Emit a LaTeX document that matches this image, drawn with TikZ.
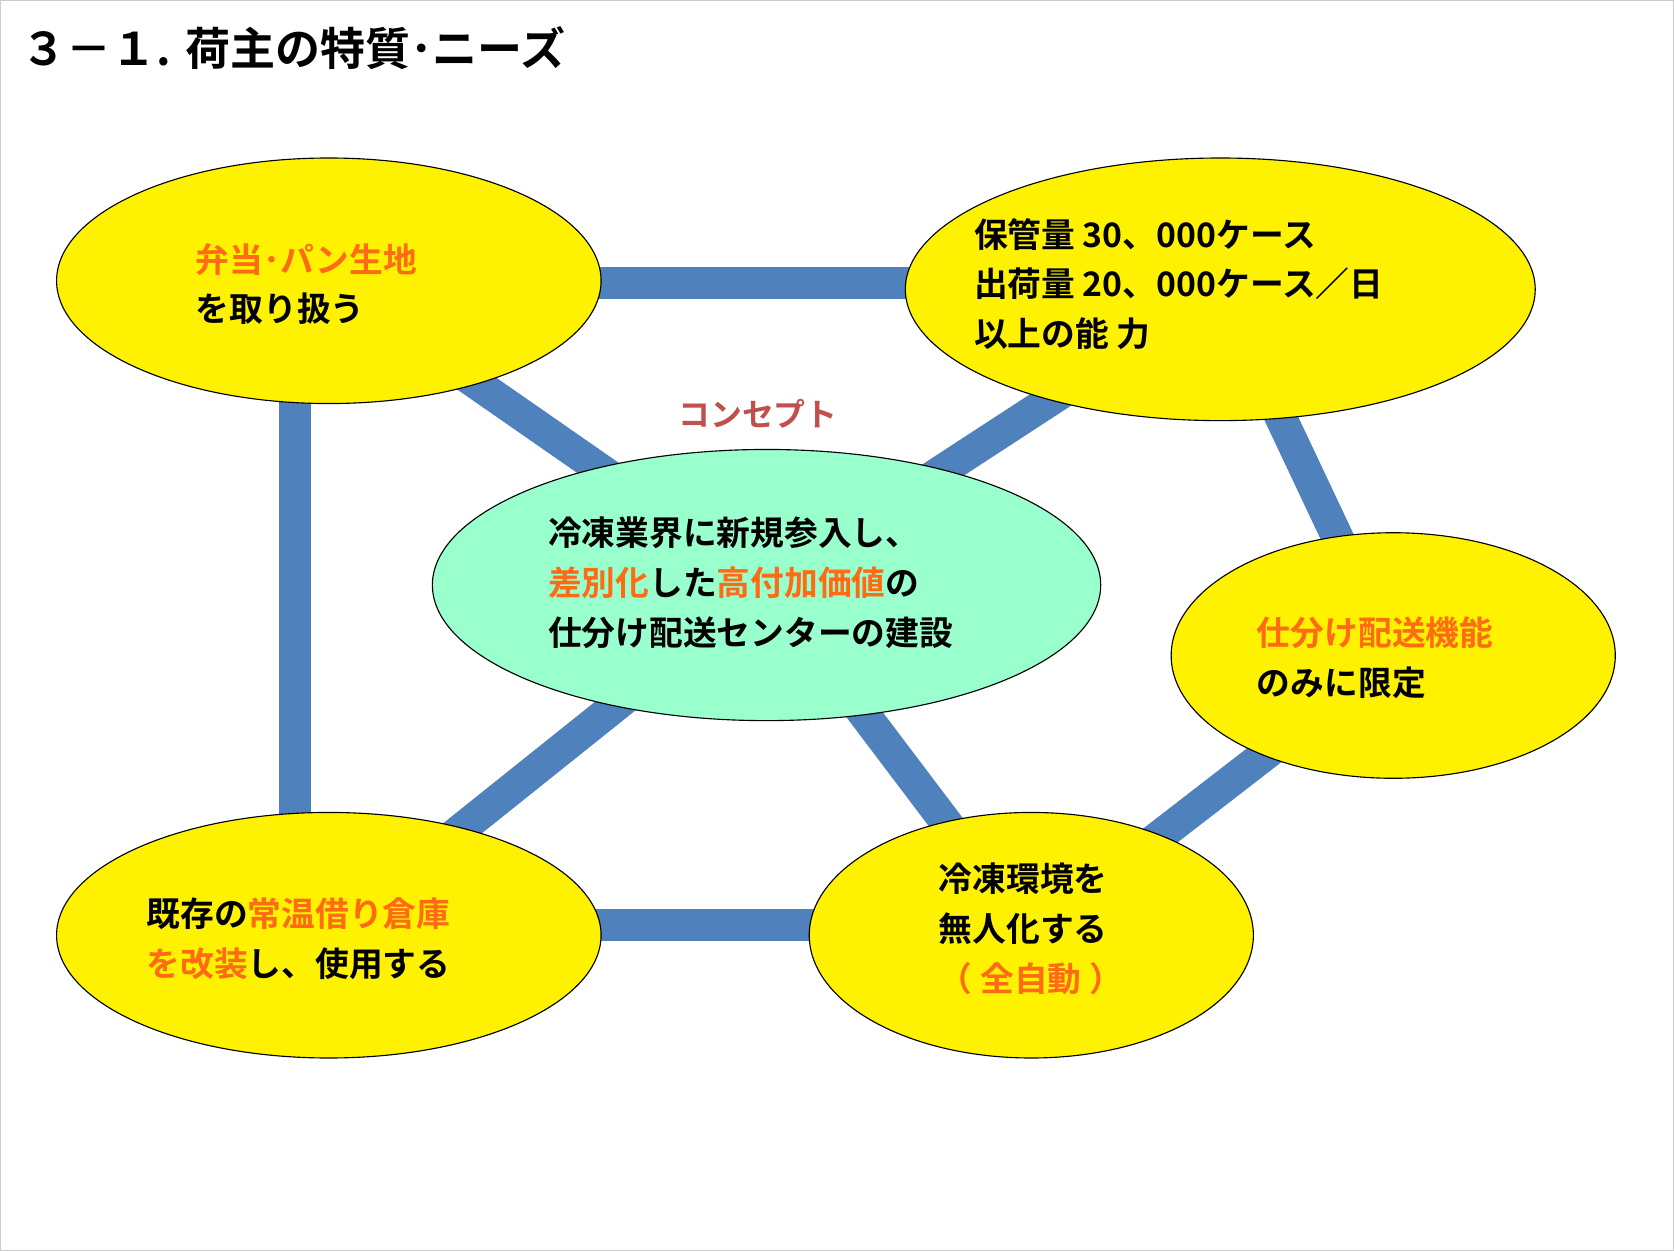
\documentclass[tikz,border=0pt]{standalone}
\usepackage{fontspec}
\newfontfamily\jp{Noto Sans CJK JP}[BoldFont={Noto Sans CJK JP Bold}]
\definecolor{lnk}{HTML}{4F81BD}
\definecolor{org}{HTML}{FF6A14}
\definecolor{cpt}{HTML}{C0504D}
\definecolor{mint}{HTML}{99FFCC}
\begin{document}
\begin{tikzpicture}[x=0.02cm,y=-0.02cm,
  lk/.style={lnk,line width=0.6cm},
  bub/.style={draw=black,fill=yellow,line width=0.6pt},
  txt/.style={font=\jp\bfseries\fontsize{18}{26.5}\selectfont,align=left,anchor=west,inner sep=0}]
\useasboundingbox (0,0) rectangle (1568,1172);
\draw[gray!40] (0.5,0.5) rectangle (1567.5,1171.5);
\node[anchor=west,inner sep=0,font=\jp\bfseries\fontsize{24}{28}\selectfont] (title) at (20,45) {３－１. 荷主の特質･ニーズ};
\coordinate (A) at (308,263); \coordinate (B) at (1143,271); \coordinate (C) at (718,548);
\coordinate (D) at (1305,614); \coordinate (E) at (308,876); \coordinate (F) at (966,876);
\draw[lk] (300,265) -- (1143,265);
\draw[lk] (276,263) -- (276,876);
\draw[lk] (308,866) -- (966,866);
\draw[lk] (A) -- (C); \draw[lk] (B) -- (C); \draw[lk] (C) -- (E); \draw[lk] (C) -- (F);
\draw[lk] (B) -- (D); \draw[lk] (D) -- (F);
\path[bub] (A) ellipse [x radius=255,y radius=115];
\path[bub] (B) ellipse [x radius=295,y radius=123];
\path[bub,fill=mint] (C) ellipse [x radius=313,y radius=127];
\path[bub] (D) ellipse [x radius=208,y radius=115];
\path[bub] (E) ellipse [x radius=255,y radius=115];
\path[bub] (F) ellipse [x radius=208,y radius=115];
\node[txt] (ta) at (183,266) {\textcolor{org}{弁当･パン生地}\\を取り扱う};
\node[txt] (tb) at (912,266) {保管量 30、000ケース\\出荷量 20、000ケース／日\\以上の能 力};
\node[txt] (tc) at (513,546) {冷凍業界に新規参入し、\\\textcolor{org}{差別化}した\textcolor{org}{高付加価値}の\\仕分け配送センターの建設};
\node[txt] (td) at (1177,616) {\textcolor{org}{仕分け配送機能}\\のみに限定};
\node[txt] (te) at (137,879) {既存の\textcolor{org}{常温借り倉庫}\\\textcolor{org}{を改装}し、使用する};
\node[txt] (tf) at (879,870) {冷凍環境を\\無人化する\\\textcolor{org}{（ 全自動 ）}};
\node[inner sep=0,text=cpt,font=\jp\bfseries\fontsize{17}{20}\selectfont] (cp) at (710,388) {コンセプト};
\end{tikzpicture}
\end{document}
